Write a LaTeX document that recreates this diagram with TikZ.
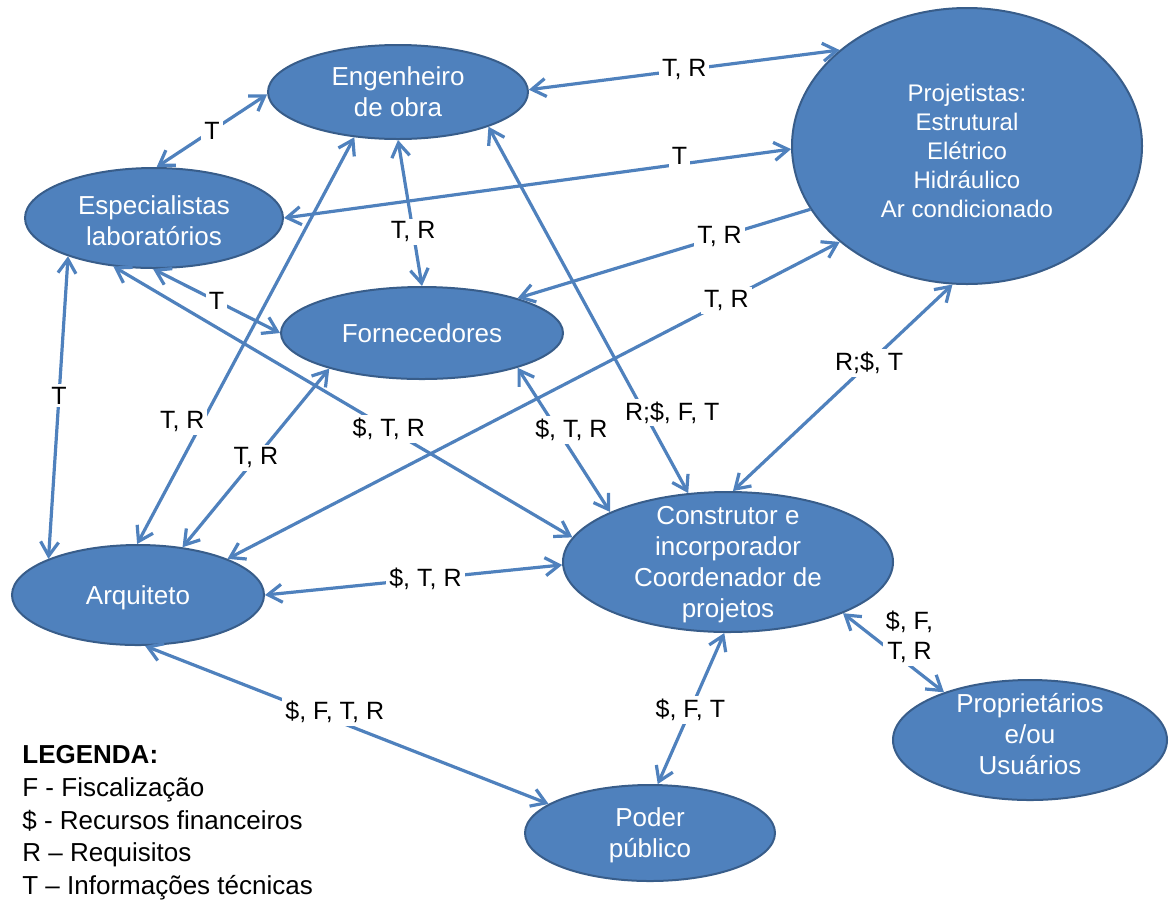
\documentclass[tikz,border=0pt]{standalone}
\usepackage{fontspec}
\setmainfont{Liberation Sans}
\usepackage{tikz}
\usetikzlibrary{shapes.geometric, arrows.meta}

\definecolor{azul}{RGB}{79,129,189}
\definecolor{bordo}{RGB}{56,93,138}
\newcommand{\nome}[2][-4.5pt]{\makebox[0pt]{\smash{\raisebox{#1}{\begin{tabular}{@{}c@{}}#2\end{tabular}}}}}

\tikzset{
  >={Straight Barb[length=7pt,width=9pt]},
  ator/.style={ellipse, draw=bordo, fill=azul, line width=1pt, text=white, inner sep=0pt, font=\fontsize{13}{15.5}\selectfont},
  fluxo/.style={draw=azul, line width=1.6pt, <->},
  rotulo/.style={fill=white, inner sep=1.5pt, font=\fontsize{12.5}{15}\selectfont}
}

\begin{document}
\begin{tikzpicture}[x=0.5pt, y=-0.5pt]
    \useasboundingbox (0,0) rectangle (1171,901);

    % Atores
    \node[ator, minimum width=130pt, minimum height=47pt] (eng) at (398,92) {\nome{Engenheiro\\de obra}};
    \node[ator, minimum width=129pt, minimum height=50pt] (esp) at (154,218) {\nome[-6pt]{Especialistas\\laboratórios}};
    \node[ator, minimum width=175pt, minimum height=138pt, font=\fontsize{12}{14.5}\selectfont] (proj) at (967,146)
        {\nome[-7pt]{Projetistas:\\Estrutural\\Elétrico\\Hidráulico\\Ar condicionado}};
    \node[ator, minimum width=141pt, minimum height=46pt] (forn) at (422,333) {\nome{Fornecedores}};
    \node[ator, minimum width=126pt, minimum height=50pt] (arq) at (138,595) {\nome{Arquiteto}};
    \node[ator, minimum width=165pt, minimum height=70pt] (cons) at (728,562)
        {\nome{Construtor e\\incorporador\\Coordenador de\\projetos}};
    \node[ator, minimum width=137pt, minimum height=60pt] (prop) at (1030,740) {\nome[-1.5pt]{Proprietários\\e/ou\\Usuários}};
    \node[ator, minimum width=125pt, minimum height=48pt] (poder) at (650,833) {\nome{Poder\\público}};

    % Engenheiro de obra
    \draw[fluxo] (esp.87) -- node[rotulo]{T} (eng.181);
    \draw[fluxo] (eng.1) -- node[rotulo]{T, R} (proj.143);
    \draw[fluxo] (eng.270) -- node[rotulo, pos=0.63]{T, R} (forn.90);
    \draw[fluxo] (eng.339) -- node[rotulo, pos=0.78, xshift=14pt]{R;\$, F, T} (cons.120);

    % Especialistas
    \draw[fluxo] (esp.0) -- node[rotulo, pos=0.78, yshift=4pt]{T} (proj.181);
    \draw[fluxo] (esp.204) -- node[rotulo, pos=0.46]{T} (arq.158);
    \draw[fluxo] (esp.230) -- node[rotulo, pos=0.6]{\$, T, R} (cons.171);
    \draw[fluxo] (esp.269) -- node[rotulo]{T} (forn.180);

    % Projetistas
    \draw[fluxo, ->] (proj.202) -- node[rotulo, pos=0.31]{T, R} (forn.20);
    \draw[fluxo] (proj.217) -- node[rotulo, pos=0.185]{T, R} (arq.22);
    \draw[fluxo] (proj.264) -- node[rotulo, pos=0.38]{R;\$, T} (cons.86);

    % Arquiteto
    \draw[fluxo] (arq.91) -- node[rotulo, pos=0.3, xshift=-10pt]{T, R} (eng.226);
    \draw[fluxo] (arq.47) -- node[rotulo]{T, R} (forn.201);
    \draw[fluxo] (arq.0) -- node[rotulo, pos=0.54]{\$, T, R} (cons.181);
    \draw[fluxo] (arq.278) -- node[rotulo, pos=0.47, yshift=4pt]{\$, F, T, R} (poder.164);

    % Construtor
    \draw[fluxo] (forn.340) -- node[rotulo, pos=0.43, xshift=7pt]{\$, T, R} (cons.157);
    \draw[fluxo] (cons.267) -- node[rotulo, pos=0.51]{\$, F, T} (poder.81);
    \draw[fluxo] (cons.336) -- node[rotulo, align=center, xshift=8pt, yshift=8pt]{\$, F,\\T, R} (prop.151);

    % Legenda
    \node[anchor=north west, inner sep=0pt, align=left, font=\fontsize{13}{16.4}\selectfont] (legenda) at (22,745)
        {\textbf{LEGENDA:}\\F - Fiscalização\\\$ - Recursos financeiros\\R -- Requisitos\\T -- Informações técnicas};
\end{tikzpicture}
\end{document}
